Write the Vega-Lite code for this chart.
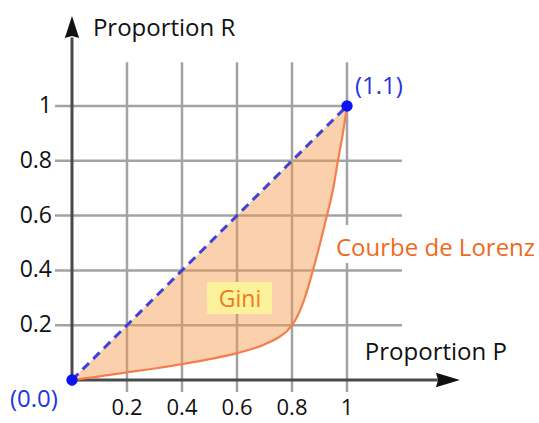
{
  "$schema": "https://vega.github.io/schema/vega-lite/v6.json",
  "width": 539,
  "height": 423,
  "padding": 0,
  "autosize": "none",
  "config": {"view": {"stroke": null}, "font": "Open Sans"},
  "datasets": {
    "lorenz": [
      {"p": 0, "r": 0, "eq": 0},
      {"p": 0.1, "r": 0.013, "eq": 0.1},
      {"p": 0.2, "r": 0.028, "eq": 0.2},
      {"p": 0.3, "r": 0.042, "eq": 0.3},
      {"p": 0.4, "r": 0.058, "eq": 0.4},
      {"p": 0.5, "r": 0.076, "eq": 0.5},
      {"p": 0.6, "r": 0.098, "eq": 0.6},
      {"p": 0.7, "r": 0.13, "eq": 0.7},
      {"p": 0.75, "r": 0.155, "eq": 0.75},
      {"p": 0.78, "r": 0.177, "eq": 0.78},
      {"p": 0.8, "r": 0.2, "eq": 0.8},
      {"p": 0.82, "r": 0.234, "eq": 0.82},
      {"p": 0.85, "r": 0.31, "eq": 0.85},
      {"p": 0.876, "r": 0.4, "eq": 0.876},
      {"p": 0.9, "r": 0.49, "eq": 0.9},
      {"p": 0.927, "r": 0.6, "eq": 0.927},
      {"p": 0.95, "r": 0.7, "eq": 0.95},
      {"p": 0.967, "r": 0.8, "eq": 0.967},
      {"p": 0.985, "r": 0.9, "eq": 0.985},
      {"p": 1, "r": 1, "eq": 1}
    ],
    "grid": [
      {"x": 0.2, "x2": 0.2, "y": -0.044, "y2": 1.16},
      {"x": 0.4, "x2": 0.4, "y": -0.044, "y2": 1.16},
      {"x": 0.6, "x2": 0.6, "y": -0.044, "y2": 1.16},
      {"x": 0.8, "x2": 0.8, "y": -0.044, "y2": 1.16},
      {"x": 1.0, "x2": 1.0, "y": -0.044, "y2": 1.16},
      {"x": -0.062, "x2": 1.2, "y": 0.2, "y2": 0.2},
      {"x": -0.062, "x2": 1.2, "y": 0.4, "y2": 0.4},
      {"x": -0.062, "x2": 1.2, "y": 0.6, "y2": 0.6},
      {"x": -0.062, "x2": 1.2, "y": 0.8, "y2": 0.8},
      {"x": -0.062, "x2": 1.0, "y": 1.0, "y2": 1.0}
    ],
    "axes": [
      {"x": -0.015, "x2": 1.33, "y": 0, "y2": 0},
      {"x": 0, "x2": 0, "y": -0.02, "y2": 1.25}
    ],
    "ticks": [
      {"v": 0.2, "label": "0.2"},
      {"v": 0.4, "label": "0.4"},
      {"v": 0.6, "label": "0.6"},
      {"v": 0.8, "label": "0.8"},
      {"v": 1, "label": "1"}
    ],
    "points": [
      {"p": 0, "r": 0},
      {"p": 1, "r": 1}
    ]
  },
  "layer": [
    {
      "data": {"name": "grid"},
      "mark": {"type": "rule", "color": "#a3a3a3", "strokeWidth": 2.5},
      "encoding": {
        "x": {"field": "x", "type": "quantitative", "scale": {"domain": [-0.2618, 1.6982], "nice": false, "zero": false}, "axis": null},
        "x2": {"field": "x2"},
        "y": {"field": "y", "type": "quantitative", "scale": {"domain": [-0.1569, 1.3869], "nice": false, "zero": false}, "axis": null},
        "y2": {"field": "y2"}
      }
    },
    {
      "data": {"name": "lorenz"},
      "mark": {"type": "area", "color": "#f79a4a", "opacity": 0.45, "interpolate": "monotone"},
      "encoding": {
        "x": {"field": "p", "type": "quantitative", "scale": {"domain": [-0.2618, 1.6982], "nice": false, "zero": false}, "axis": null},
        "y": {"field": "eq", "type": "quantitative", "scale": {"domain": [-0.1569, 1.3869], "nice": false, "zero": false}, "axis": null},
        "y2": {"field": "r"}
      }
    },
    {
      "data": {"values": [{"x": 0.965, "x2": 1.7, "y": 0.427, "y2": 0.566}]},
      "mark": {"type": "rect", "color": "#ffffff"},
      "encoding": {
        "x": {"field": "x", "type": "quantitative", "scale": {"domain": [-0.2618, 1.6982], "nice": false, "zero": false}, "axis": null},
        "x2": {"field": "x2"},
        "y": {"field": "y", "type": "quantitative", "scale": {"domain": [-0.1569, 1.3869], "nice": false, "zero": false}, "axis": null},
        "y2": {"field": "y2"}
      }
    },
    {
      "data": {"values": [{"x": 0.491, "x2": 0.727, "y": 0.241, "y2": 0.358}]},
      "mark": {"type": "rect", "color": "#fdf29c"},
      "encoding": {
        "x": {"field": "x", "type": "quantitative", "scale": {"domain": [-0.2618, 1.6982], "nice": false, "zero": false}, "axis": null},
        "x2": {"field": "x2"},
        "y": {"field": "y", "type": "quantitative", "scale": {"domain": [-0.1569, 1.3869], "nice": false, "zero": false}, "axis": null},
        "y2": {"field": "y2"}
      }
    },
    {
      "data": {"name": "axes"},
      "mark": {"type": "rule", "color": "#4a4a4a", "strokeWidth": 3},
      "encoding": {
        "x": {"field": "x", "type": "quantitative", "scale": {"domain": [-0.2618, 1.6982], "nice": false, "zero": false}, "axis": null},
        "x2": {"field": "x2"},
        "y": {"field": "y", "type": "quantitative", "scale": {"domain": [-0.1569, 1.3869], "nice": false, "zero": false}, "axis": null},
        "y2": {"field": "y2"}
      }
    },
    {
      "data": {"values": [{"a": 1}]},
      "mark": {"type": "point", "shape": "M0,-1L0.65,1L0,0.82L-0.65,1Z", "size": 484, "filled": true, "color": "#111111", "opacity": 1},
      "encoding": {
        "x": {"datum": 0, "type": "quantitative", "scale": {"domain": [-0.2618, 1.6982], "nice": false, "zero": false}, "axis": null},
        "y": {"datum": 1.288, "type": "quantitative", "scale": {"domain": [-0.1569, 1.3869], "nice": false, "zero": false}, "axis": null}
      }
    },
    {
      "data": {"values": [{"a": 1}]},
      "mark": {"type": "point", "shape": "M1,0L-1,-0.6L-0.82,0L-1,0.6Z", "size": 576, "filled": true, "color": "#111111", "opacity": 1},
      "encoding": {
        "x": {"datum": 1.367, "type": "quantitative", "scale": {"domain": [-0.2618, 1.6982], "nice": false, "zero": false}, "axis": null},
        "y": {"datum": 0, "type": "quantitative", "scale": {"domain": [-0.1569, 1.3869], "nice": false, "zero": false}, "axis": null}
      }
    },
    {
      "data": {"name": "lorenz"},
      "mark": {"type": "line", "color": "#4040dc", "strokeWidth": 3, "strokeDash": [9, 6]},
      "encoding": {
        "x": {"field": "p", "type": "quantitative", "scale": {"domain": [-0.2618, 1.6982], "nice": false, "zero": false}, "axis": null},
        "y": {"field": "eq", "type": "quantitative", "scale": {"domain": [-0.1569, 1.3869], "nice": false, "zero": false}, "axis": null}
      }
    },
    {
      "data": {"name": "lorenz"},
      "mark": {"type": "line", "color": "#f47e4c", "strokeWidth": 2.2, "interpolate": "monotone"},
      "encoding": {
        "x": {"field": "p", "type": "quantitative", "scale": {"domain": [-0.2618, 1.6982], "nice": false, "zero": false}, "axis": null},
        "y": {"field": "r", "type": "quantitative", "scale": {"domain": [-0.1569, 1.3869], "nice": false, "zero": false}, "axis": null}
      }
    },
    {
      "data": {"name": "points"},
      "mark": {"type": "circle", "color": "#0a14f5", "size": 130, "opacity": 1},
      "encoding": {
        "x": {"field": "p", "type": "quantitative", "scale": {"domain": [-0.2618, 1.6982], "nice": false, "zero": false}, "axis": null},
        "y": {"field": "r", "type": "quantitative", "scale": {"domain": [-0.1569, 1.3869], "nice": false, "zero": false}, "axis": null}
      }
    },
    {
      "data": {"name": "ticks"},
      "mark": {"type": "text", "fontSize": 22, "align": "center", "baseline": "alphabetic", "color": "#111111"},
      "encoding": {
        "x": {"field": "v", "type": "quantitative", "scale": {"domain": [-0.2618, 1.6982], "nice": false, "zero": false}, "axis": null},
        "y": {"datum": -0.126, "type": "quantitative", "scale": {"domain": [-0.1569, 1.3869], "nice": false, "zero": false}, "axis": null},
        "text": {"field": "label"}
      }
    },
    {
      "data": {"name": "ticks"},
      "mark": {"type": "text", "fontSize": 23, "align": "right", "baseline": "middle", "color": "#111111"},
      "encoding": {
        "x": {"datum": -0.0727, "type": "quantitative", "scale": {"domain": [-0.2618, 1.6982], "nice": false, "zero": false}, "axis": null},
        "y": {"field": "v", "type": "quantitative", "scale": {"domain": [-0.1569, 1.3869], "nice": false, "zero": false}, "axis": null},
        "text": {"field": "label"}
      }
    },
    {
      "data": {"values": [
        {"x": 0.076, "y": 1.2555, "text": "Proportion R"},
        {"x": 1.065, "y": 0.073, "text": "Proportion P"}
      ]},
      "mark": {"type": "text", "fontSize": 24, "align": "left", "baseline": "alphabetic", "color": "#111111"},
      "encoding": {
        "x": {"field": "x", "type": "quantitative", "scale": {"domain": [-0.2618, 1.6982], "nice": false, "zero": false}, "axis": null},
        "y": {"field": "y", "type": "quantitative", "scale": {"domain": [-0.1569, 1.3869], "nice": false, "zero": false}, "axis": null},
        "text": {"field": "text"}
      }
    },
    {
      "data": {"values": [
        {"x": 1.029, "y": 1.044, "text": "(1.1)"},
        {"x": -0.2255, "y": -0.0974, "text": "(0.0)"}
      ]},
      "mark": {"type": "text", "fontSize": 24, "align": "left", "baseline": "alphabetic", "color": "#1f35e0"},
      "encoding": {
        "x": {"field": "x", "type": "quantitative", "scale": {"domain": [-0.2618, 1.6982], "nice": false, "zero": false}, "axis": null},
        "y": {"field": "y", "type": "quantitative", "scale": {"domain": [-0.1569, 1.3869], "nice": false, "zero": false}, "axis": null},
        "text": {"field": "text"}
      }
    },
    {
      "data": {"values": [{"x": 0.96, "y": 0.4526, "text": "Courbe de Lorenz"}]},
      "mark": {"type": "text", "fontSize": 24, "align": "left", "baseline": "alphabetic", "color": "#ee6a1c"},
      "encoding": {
        "x": {"field": "x", "type": "quantitative", "scale": {"domain": [-0.2618, 1.6982], "nice": false, "zero": false}, "axis": null},
        "y": {"field": "y", "type": "quantitative", "scale": {"domain": [-0.1569, 1.3869], "nice": false, "zero": false}, "axis": null},
        "text": {"field": "text"}
      }
    },
    {
      "data": {"values": [{"x": 0.611, "y": 0.266, "text": "Gini"}]},
      "mark": {"type": "text", "fontSize": 23, "align": "center", "baseline": "alphabetic", "color": "#ee7a1a"},
      "encoding": {
        "x": {"field": "x", "type": "quantitative", "scale": {"domain": [-0.2618, 1.6982], "nice": false, "zero": false}, "axis": null},
        "y": {"field": "y", "type": "quantitative", "scale": {"domain": [-0.1569, 1.3869], "nice": false, "zero": false}, "axis": null},
        "text": {"field": "text"}
      }
    }
  ]
}
